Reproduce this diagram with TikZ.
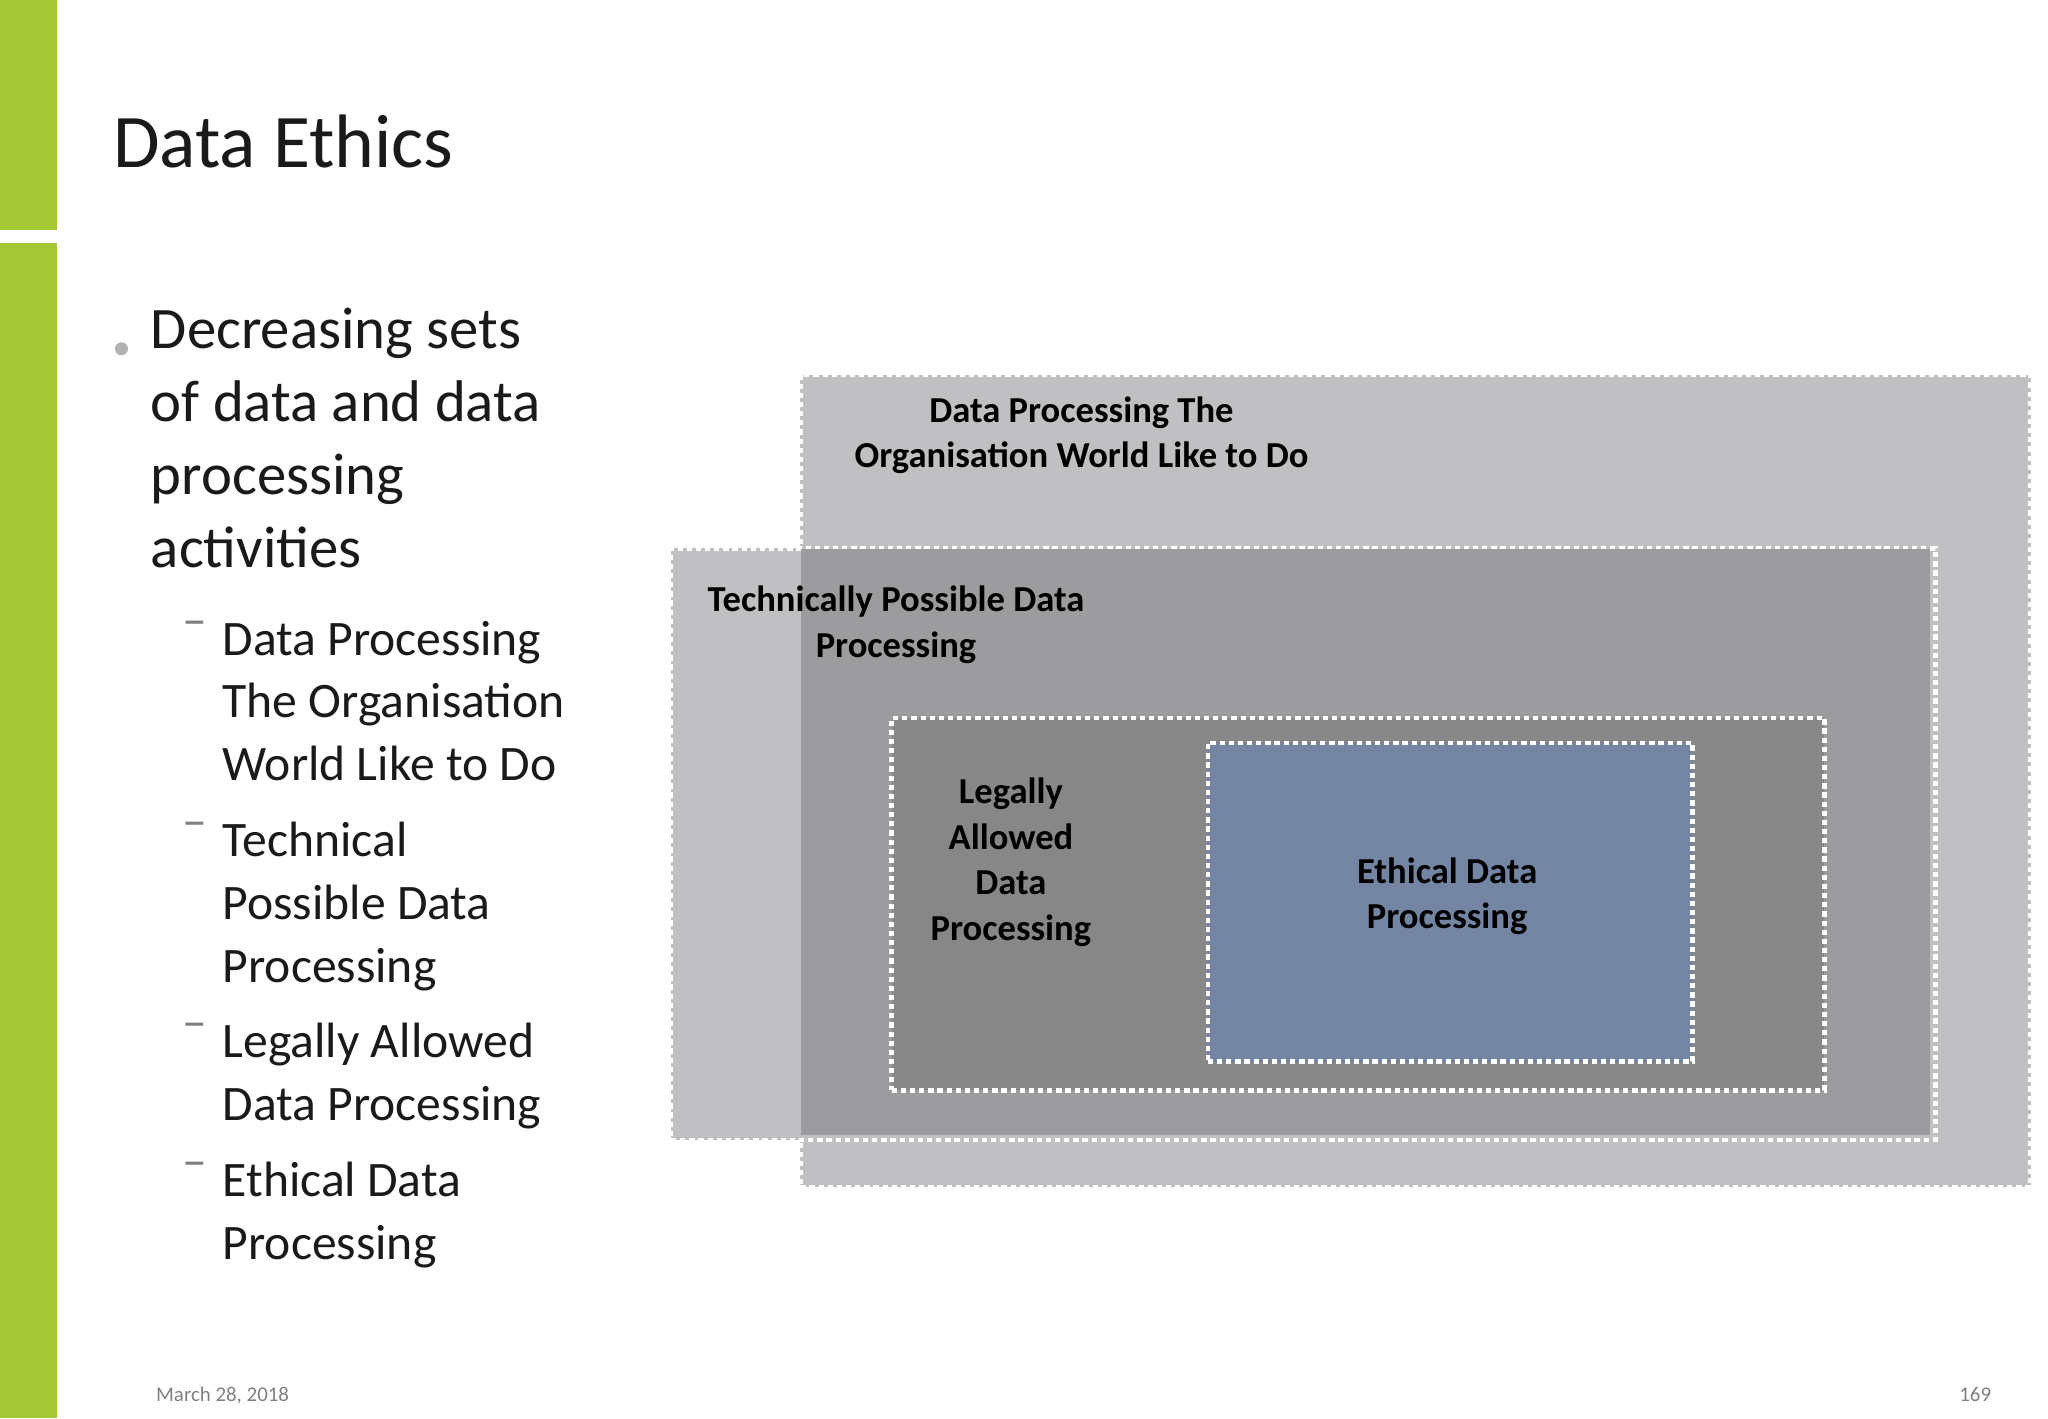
\documentclass[tikz,border=0pt]{standalone}
\usepackage{fontspec}
\setmainfont{Carlito}
\definecolor{grn}{HTML}{A5C934}
\definecolor{g1}{HTML}{C0C0C2}
\definecolor{g2}{HTML}{9C9C9E}
\definecolor{g3}{HTML}{878787}
\definecolor{bl}{HTML}{7485A3}
\definecolor{txt}{HTML}{1A1A1A}
\tikzset{
 box/.style={draw=white, line width=3.5pt, dash pattern=on 4pt off 3pt},
 lbl/.style={font=\fontsize{28}{35}\selectfont\bfseries, text=black, align=center, anchor=north},
 main/.style={font=\fontsize{45}{56}\selectfont, text=txt, anchor=north west, align=left},
 sub/.style={font=\fontsize{38}{48}\selectfont, text=txt, anchor=north west, align=left},
}
\begin{document}
\begin{tikzpicture}[x=1pt,y=-1pt]
\useasboundingbox (0,0) rectangle (1568,1086);
\fill[white] (0,0) rectangle (1568,1086);
\fill[grn] (0,0) rectangle (44,176);
\fill[grn] (0,186) rectangle (44,1086);
\node[font=\fontsize{58}{70}\selectfont, text=txt, anchor=base west] (title) at (83,128) {Data Ethics};
\fill[gray!60] (93,267) circle (5);
\node[main] (b1) at (112,232) {Decreasing sets\\of data and data\\processing\\activities};
\foreach \y/\t [count=\i] in {472/{Data Processing\\The Organisation\\World Like to Do},626/{Technical\\Possible Data\\Processing},780/{Legally Allowed\\Data Processing},886/{Ethical Data\\Processing}}{
  \node[sub] (s\i) at (167,\y) {\t};
  \node[sub,text=gray] (d\i) at (136,\y) {–};
}
\node[box,fill=g1,minimum width=942,minimum height=622,anchor=north west] (r1) at (611,285) {};
\node[box,fill=g1,minimum width=968,minimum height=453,anchor=north west] (r2) at (512,418) {};
\fill[g2] (613,420) rectangle (1478,869);
\node[box,fill=g3,minimum width=714,minimum height=285,anchor=north west] (r3) at (681,548) {};
\node[box,fill=bl,minimum width=371,minimum height=244,anchor=north west] (r4) at (923,567) {};
\node[lbl] (t1) at (828,300) {Data Processing The\\Organisation World Like to Do};
\node[lbl] (t2) at (686,445) {Technically Possible Data\\Processing};
\node[lbl] (t3) at (774,592) {Legally\\Allowed\\Data\\Processing};
\node[lbl] (t4) at (1108,653) {Ethical Data\\Processing};
\node[font=\fontsize{16}{20}\selectfont, text=gray, anchor=base west] (dt) at (116,1073) {March 28, 2018};
\node[font=\fontsize{16}{20}\selectfont, text=gray, anchor=base east] (pg) at (1528,1073) {169};
\end{tikzpicture}
\end{document}
